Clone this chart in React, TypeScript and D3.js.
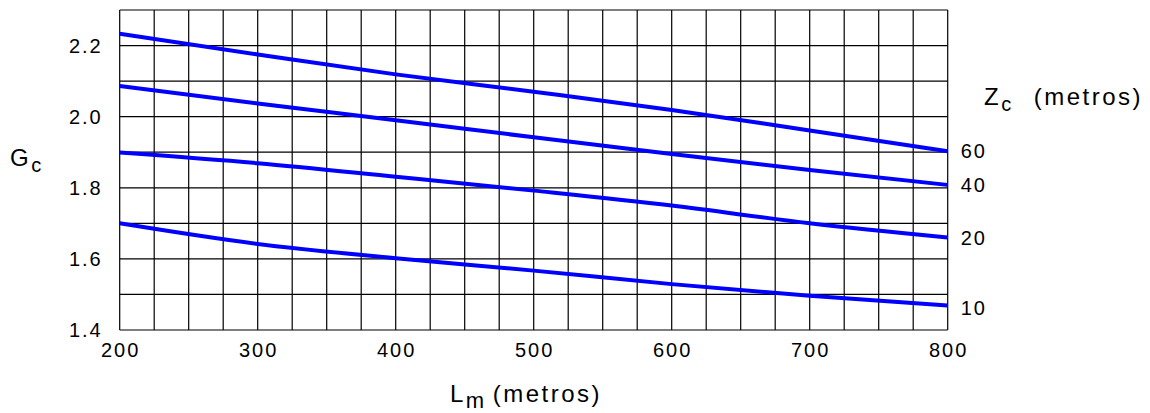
import React from "react";
import * as d3 from "d3";

const lengths = [200, 300, 400, 500, 600, 700, 800];
const seriesZ60 = [2.233, 2.175, 2.119, 2.07, 2.019, 1.961, 1.903];
const seriesZ40 = [2.086, 2.037, 1.99, 1.942, 1.895, 1.85, 1.808];
const seriesZ20 = [1.899, 1.869, 1.831, 1.792, 1.75, 1.7, 1.66];
const seriesZ10 = [1.7, 1.642, 1.602, 1.567, 1.529, 1.496, 1.469];
const seriesLabels = ["60", "40", "20", "10"];
const xTicks = [200, 300, 400, 500, 600, 700, 800];
const yTicks = [1.4, 1.6, 1.8, 2.0, 2.2];

const W = 1150;
const H = 413;

export default function App() {
  const x = d3.scaleLinear().domain([200, 800]).range([119.7, 947.7]);
  const y = d3.scaleLinear().domain([1.4, 2.3]).range([330, 10]);
  const series = [seriesZ60, seriesZ40, seriesZ20, seriesZ10];

  const xGrid = d3.range(200, 800.01, 25);
  const yGrid = d3.range(1.4, 2.3001, 0.1);

  const line = d3
    .line<number>()
    .x((_, i) => x(lengths[i]))
    .y((d) => y(d))
    .curve(d3.curveMonotoneX);

  const font = "'Liberation Sans', Arial, sans-serif";

  return (
    <svg
      width={W}
      height={H}
      style={{ position: "absolute", left: 0, top: 0, background: "#fff" }}
      fontFamily={font}
    >
      <rect x={0} y={0} width={W} height={H} fill="#fff" />
      <g>
        {xGrid.map((v, i) => (
          <line
            key={"xg" + i}
            x1={x(v)}
            x2={x(v)}
            y1={y(2.3)}
            y2={y(1.4)}
            stroke="#000"
            strokeWidth={1.2}
          />
        ))}
        {yGrid.map((v, i) => (
          <line
            key={"yg" + i}
            x1={x(200)}
            x2={x(800)}
            y1={y(v)}
            y2={y(v)}
            stroke="#000"
            strokeWidth={1.2}
          />
        ))}
      </g>
      <g>
        {series.map((s, i) => (
          <path
            key={"s" + i}
            d={line(s) || ""}
            fill="none"
            stroke="#0000ff"
            strokeWidth={4}
          />
        ))}
      </g>
      <g fontSize={20} fill="#000" letterSpacing={2}>
        {yTicks.map((v) => (
          <text
            key={"yt" + v}
            x={x(200) - 17}
            y={y(v)}
            textAnchor="end"
            dominantBaseline="central"
          >
            {v.toFixed(1)}
          </text>
        ))}
        {xTicks.map((v) => (
          <text
            key={"xt" + v}
            x={x(v) + 1}
            y={350}
            textAnchor="middle"
            dominantBaseline="central"
          >
            {v}
          </text>
        ))}
        {series.map((s, i) => (
          <text
            key={"sl" + i}
            x={x(800) + 13}
            y={y(s[s.length - 1]) + (i === 3 ? 3 : 0)}
            dominantBaseline="central"
          >
            {seriesLabels[i]}
          </text>
        ))}
      </g>
      <g fill="#000" letterSpacing={2.5}>
        <text x={10} y={166} fontSize={24}>
          G
          <tspan fontSize={20} dy={6}>
            c
          </tspan>
        </text>
        <text x={984} y={105} fontSize={24}>
          Z
          <tspan fontSize={20} dy={6}>
            c
          </tspan>
          <tspan fontSize={24} dy={-6} dx={20}>
            (metros)
          </tspan>
        </text>
        <text x={450} y={402} fontSize={24}>
          L
          <tspan fontSize={22} dy={6}>
            m
          </tspan>
          <tspan fontSize={24} dy={-6} dx={6}>
            (metros)
          </tspan>
        </text>
      </g>
    </svg>
  );
}
